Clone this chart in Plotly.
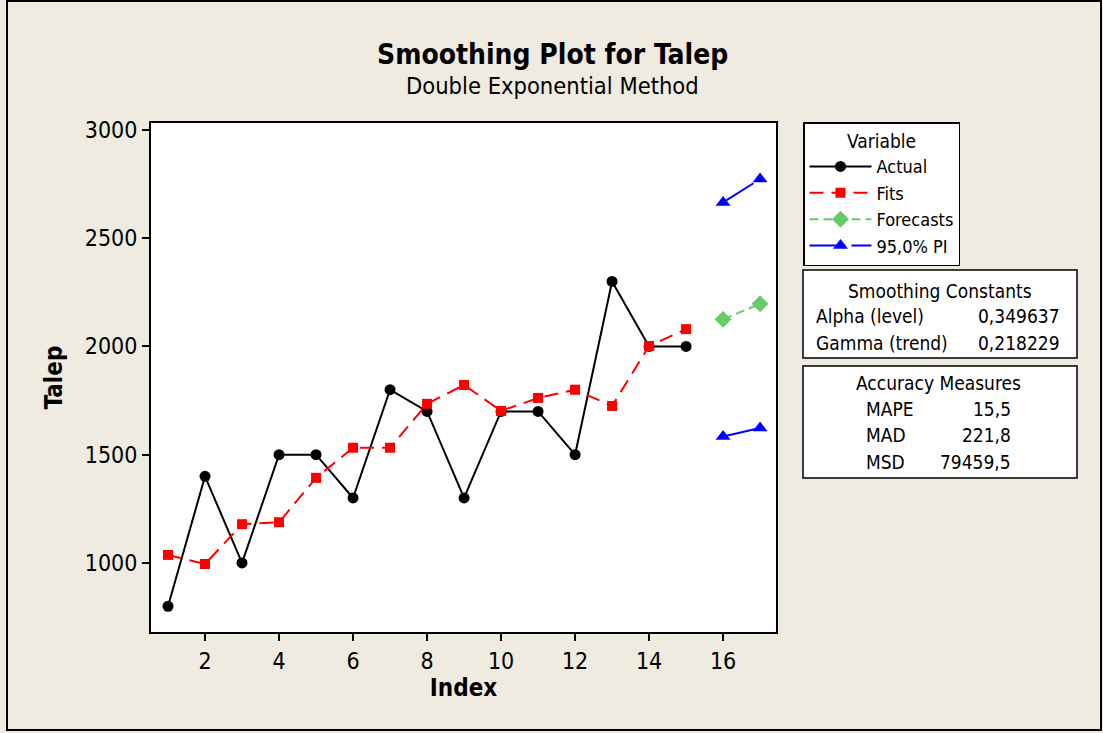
import plotly.graph_objects as go

# --- series ---------------------------------------------------------------
index = list(range(1, 16))
actual = [800, 1400, 1000, 1500, 1500, 1300, 1800, 1700, 1300, 1700, 1700, 1500, 2300, 2000, 2000]
fits = [1037, 995, 1179, 1188, 1393, 1532, 1532, 1735, 1822, 1702, 1762, 1800, 1725, 2002, 2080]

forecast_index = [16, 17]
forecasts = [2125, 2197]
pi_lower = [1584, 1623]
pi_upper = [2665, 2773]

x_ticks = [2, 4, 6, 8, 10, 12, 14, 16]
y_ticks = [1000, 1500, 2000, 2500, 3000]

smoothing_labels = ["Alpha (level)", "Gamma (trend)"]
smoothing_values = ["0,349637", "0,218229"]
accuracy_labels = ["MAPE", "MAD", "MSD"]
accuracy_values = ["15,5", "221,8", "79459,5"]

# --- page geometry --------------------------------------------------------
W, H = 1103, 733
L, R, T, B = 151, 776, 123, 632
FONT = "DejaVu Sans Condensed, DejaVu Sans, sans-serif"
BG = "#EFEBE1"


def px(x):
    return (x - L) / (R - L)


def py(y):
    return (B - y) / (B - T)


fig = go.Figure()

fig.add_trace(go.Scatter(
    x=index, y=actual, name="Actual", mode="lines+markers",
    line=dict(color="black", width=2),
    marker=dict(symbol="circle", size=11, color="black"),
))
fig.add_trace(go.Scatter(
    x=index, y=fits, name="Fits", mode="lines+markers",
    line=dict(color="#FF0000", width=2, dash="14px,8px"),
    marker=dict(symbol="square", size=10, color="#FF0000"),
))
fig.add_trace(go.Scatter(
    x=forecast_index, y=forecasts, name="Forecasts", mode="lines+markers",
    line=dict(color="#66CC66", width=2, dash="9px,5px"),
    marker=dict(symbol="diamond", size=13, color="#66CC66"),
))
fig.add_trace(go.Scatter(
    x=forecast_index, y=pi_upper, name="95,0% PI", mode="lines+markers",
    legendgroup="pi",
    line=dict(color="#0000FF", width=2, dash="36px,6px"),
    marker=dict(symbol="triangle-up", size=13, color="#0000FF"),
))
fig.add_trace(go.Scatter(
    x=forecast_index, y=pi_lower, name="95,0% PI", mode="lines+markers",
    legendgroup="pi", showlegend=False,
    line=dict(color="#0000FF", width=2, dash="50px,5px"),
    marker=dict(symbol="triangle-up", size=13, color="#0000FF"),
))

# --- boxes and text beside the plot ---------------------------------------
shapes = [
    # outer frame
    dict(type="rect", xref="paper", yref="paper",
         x0=px(7), x1=px(1101), y0=py(1), y1=py(730),
         line=dict(color="black", width=2), layer="below"),
    # smoothing constants box
    dict(type="rect", xref="paper", yref="paper",
         x0=px(803), x1=px(1077), y0=py(270), y1=py(358),
         line=dict(color="black", width=1.5), fillcolor="white"),
    # accuracy measures box
    dict(type="rect", xref="paper", yref="paper",
         x0=px(803), x1=px(1077), y0=py(366), y1=py(478),
         line=dict(color="black", width=1.5), fillcolor="white"),
]

annotations = []


def text(x, y, s, anchor="left", size=19):
    annotations.append(dict(
        xref="paper", yref="paper", x=px(x), y=py(y), text=s,
        xanchor=anchor, yanchor="middle", showarrow=False,
        font=dict(family=FONT, size=size, color="black"),
    ))


text(940, 291, "Smoothing Constants", "center")
for i, (lab, val) in enumerate(zip(smoothing_labels, smoothing_values)):
    text(814, 316 + 27 * i, lab, "left")
    text(1062, 316 + 27 * i, val, "right")

text(938, 383, "Accuracy Measures", "center")
for i, (lab, val) in enumerate(zip(accuracy_labels, accuracy_values)):
    text(864, 409 + 26.5 * i, lab, "left")
    text(1013, 409 + 26.5 * i, val, "right")

# title and subtitle
annotations.append(dict(
    xref="paper", yref="paper", x=px(552), y=py(54), text="<b>Smoothing Plot for Talep</b>",
    xanchor="center", yanchor="middle", showarrow=False,
    font=dict(family=FONT, size=28, color="black"),
))
annotations.append(dict(
    xref="paper", yref="paper", x=px(552), y=py(86), text="Double Exponential Method",
    xanchor="center", yanchor="middle", showarrow=False,
    font=dict(family=FONT, size=23.5, color="black"),
))

axis_common = dict(
    showline=True, linecolor="black", linewidth=2, mirror=True,
    ticks="outside", ticklen=7, tickwidth=1.5, tickcolor="black",
    showgrid=False, zeroline=False,
    tickfont=dict(family=FONT, size=23, color="black"),
)

fig.update_layout(
    width=W, height=H,
    margin=dict(l=L, r=W - R, t=T, b=H - B, pad=0),
    paper_bgcolor=BG, plot_bgcolor="white",
    shapes=shapes, annotations=annotations,
    xaxis=dict(range=[0.54, 17.43], tickvals=x_ticks,
               title=dict(text="<b>Index</b>", standoff=7,
                          font=dict(family=FONT, size=24, color="black")),
               **axis_common),
    yaxis=dict(range=[681, 3032], tickvals=y_ticks,
               title=dict(text="<b>Talep</b>", standoff=15,
                          font=dict(family=FONT, size=24, color="black")),
               **axis_common),
    legend=dict(
        x=px(803), y=py(122), xanchor="left", yanchor="top",
        bgcolor="white", bordercolor="black", borderwidth=1.5,
        font=dict(family=FONT, size=18, color="black"),
        title=dict(text="Variable", side="top center",
                   font=dict(family=FONT, size=19, color="black")),
        itemwidth=62, tracegroupgap=0,
    ),
    showlegend=True,
)

fig.write_html("out.html")
